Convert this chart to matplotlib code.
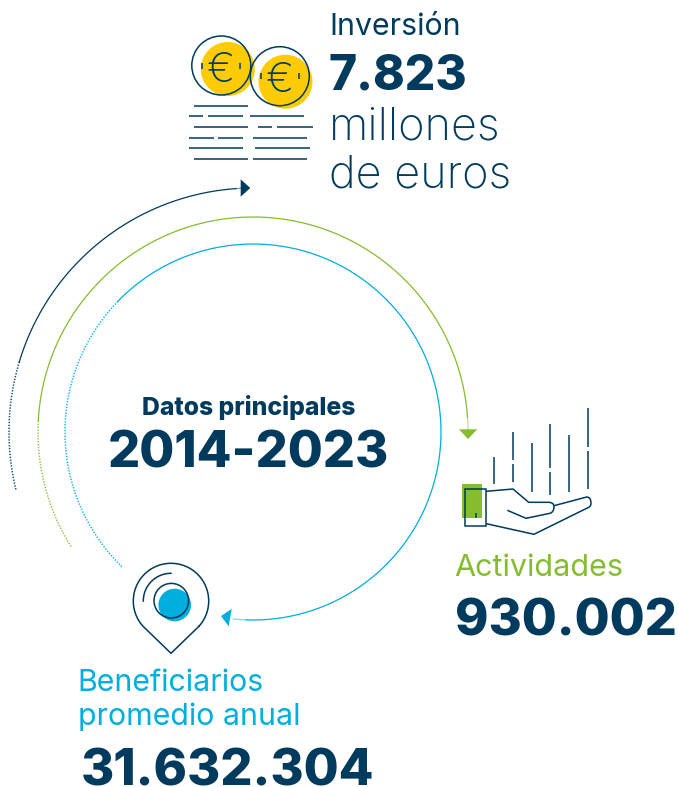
import matplotlib
matplotlib.use('Agg')
import matplotlib.pyplot as plt
import numpy as np
from matplotlib.path import Path
from matplotlib.patches import PathPatch, Circle, Polygon, Rectangle

NAVY = '#003a5d'
GREEN = '#84bd2f'
BLUE = '#00aedf'
YELLOW = '#ffcb05'

title_small = 'Datos principales'
title_big = '2014-2023'
inv_label = 'Inversión'
inv_value = '7.823'
inv_unit = ['millones', 'de euros']
act_label = 'Actividades'
act_value = '930.002'
ben_label = ['Beneficiarios', 'promedio anual']
ben_value = '31.632.304'

plt.rcParams['font.family'] = ['Inter', 'DejaVu Sans']

W, H = 679, 787
fig = plt.figure(figsize=(W / 100, H / 100), dpi=100)
ax = fig.add_axes([0, 0, 1, 1])
ax.set_xlim(0, W)
ax.set_ylim(H, 0)
ax.axis('off')

CX, CY = 253, 432
LW = 0.9


def arc(r, a0, a1, color, style='solid'):
	t = np.radians(np.linspace(a0, a1, 300))
	x = CX + r * np.cos(t)
	y = CY - r * np.sin(t)
	if style == 'dotted':
		ax.plot(x, y, color=color, lw=1.1, ls=(0, (0.9, 1.0)), alpha=0.9)
	elif style == 'fade':
		ax.plot(x, y, color=color, lw=LW, alpha=0.5)
	else:
		ax.plot(x, y, color=color, lw=LW)


def line(x0, y0, x1, y1, lw=1.1):
	ax.plot([x0, x1], [y0, y1], color=NAVY, lw=lw, solid_capstyle='butt')


def curve(verts, codes, color=NAVY, lw=1.1):
	ax.add_patch(PathPatch(Path(verts, codes), fc='none', ec=color, lw=lw, joinstyle='round'))


# big arcs
arc(244, 91, 94, NAVY, 'fade')
arc(244, 94, 163.3, NAVY)
arc(244, 163.3, 194, NAVY, 'dotted')
arc(215, -1, 4, GREEN, 'fade')
arc(215, 4, 177, GREEN)
arc(215, 177, 212.4, GREEN, 'dotted')
arc(188, -96, -92, BLUE, 'fade')
arc(188, -92, 136, BLUE)
arc(188, 136, 226, BLUE, 'dotted')

# arrow heads
ax.add_patch(Polygon([(240.7, 179.3), (240.7, 196.7), (250.3, 188)], fc=NAVY, ec='none'))
ax.add_patch(Polygon([(459, 429.3), (477.3, 429.3), (468, 439)], fc=GREEN, ec='none'))
ax.add_patch(Polygon([(221, 616), (231.7, 609), (228.7, 626.3)], fc=BLUE, ec='none'))

# coins
for ox, oy, yx, yy in [(221.3, 65.5, 227.8, 69), (279.8, 76.2, 285.5, 81.7)]:
	ax.add_patch(Circle((yx, yy), 27, fc=YELLOW, ec='none'))
	ax.add_patch(Circle((ox, oy), 29.5, fc='none', ec=NAVY, lw=1.1))
	ax.text(ox, oy + 1, '€', color=NAVY, fontsize=30, fontweight='light', ha='center', va='center_baseline')
	line(ox - 19, oy - 3, ox - 19, oy + 3)
	line(ox + 19, oy - 3, ox + 19, oy + 3)

# text lines under the coins
rows = [
	(105.7, [(194, 248.3)]),
	(116.3, [(189, 203), (207.7, 243), (250, 304.3)]),
	(127, [(194, 248.3), (258.3, 272.3), (277, 312.7)]),
	(137.7, [(189, 213.7), (218.3, 243), (252.7, 307)]),
	(148.3, [(189, 243), (255.3, 310)]),
	(159, [(194, 248.3), (252.7, 307)]),
]
for y, segs in rows:
	for a, b in segs:
		line(a, y, b, y)

# hand
ax.add_patch(Rectangle((462, 484), 20, 34, fc=GREEN, ec='none'))
ax.add_patch(Rectangle((464.7, 488.7), 21.6, 37.6, fc='none', ec=NAVY, lw=1.1))
line(475.7, 512.7, 475.7, 518.3)
M, L, C = Path.MOVETO, Path.LINETO, Path.CURVE3
curve([(486.3, 491.3), (513, 489), (528.7, 502.3), (548.3, 502.3), (554, 502.3), (554, 506.7),
	(554, 512), (550, 513.3), (526, 518.3), (507.3, 510.3)],
	[M, L, L, L, C, C, C, C, L, L])
curve([(554, 505.7), (586.7, 497), (591, 497), (591, 503.3), (591, 507), (586.7, 508.3),
	(534, 534.3), (486.3, 523.7)],
	[M, L, C, C, C, C, L, L])
vbars = [
	(494, [(456.7, 484)]),
	(513, [(432.3, 460), (464.3, 481.7)]),
	(531.7, [(443, 492)]),
	(550.3, [(424.3, 468), (472.3, 494.7)]),
	(569, [(435, 492)]),
	(587.7, [(408.3, 446.7), (451, 489.3)]),
]
for x, segs in vbars:
	for a, b in segs:
		line(x, a, x, b)

# pin
ax.add_patch(Circle((174.7, 605), 16.3, fc=BLUE, ec='none'))
ax.add_patch(Circle((171.3, 600.7), 17.3, fc='none', ec=NAVY, lw=1.1))
t = np.radians(np.linspace(90, 180, 60))
ax.plot(171 + 27.7 * np.cos(t), 601 - 27.7 * np.sin(t), color=NAVY, lw=1.1)
t = np.radians(np.linspace(-42, 222, 120))
px = 171 + 37.7 * np.cos(t)
py = 601 - 37.7 * np.sin(t)
ax.plot(np.r_[px, 171, px[0]], np.r_[py, 653.3, py[0]], color=NAVY, lw=1.1, solid_joinstyle='miter')


def label(x, y, s, size, color=NAVY, weight='normal', ha='left'):
	ax.text(x, y, s, fontsize=size, color=color, fontweight=weight, ha=ha, va='baseline')


label(329.5, 35, inv_label, 21.8, NAVY)
label(329, 90, inv_value, 34.5, NAVY, 800)
label(329, 140, inv_unit[0], 32.5, NAVY, 'light')
label(329, 187, inv_unit[1], 32.5, NAVY, 'light')
label(248.5, 415, title_small, 17.8, NAVY, 800, 'center')
label(248.5, 468, title_big, 36.5, NAVY, 800, 'center')
label(454.5, 576, act_label, 22, GREEN)
label(455, 636, act_value, 36.5, NAVY, 800)
label(77.5, 691, ben_label[0], 21.8, BLUE)
label(77.5, 725, ben_label[1], 21.8, BLUE)
label(81, 785, ben_value, 36.5, NAVY, 800)

fig.savefig('out.png', dpi=100)
